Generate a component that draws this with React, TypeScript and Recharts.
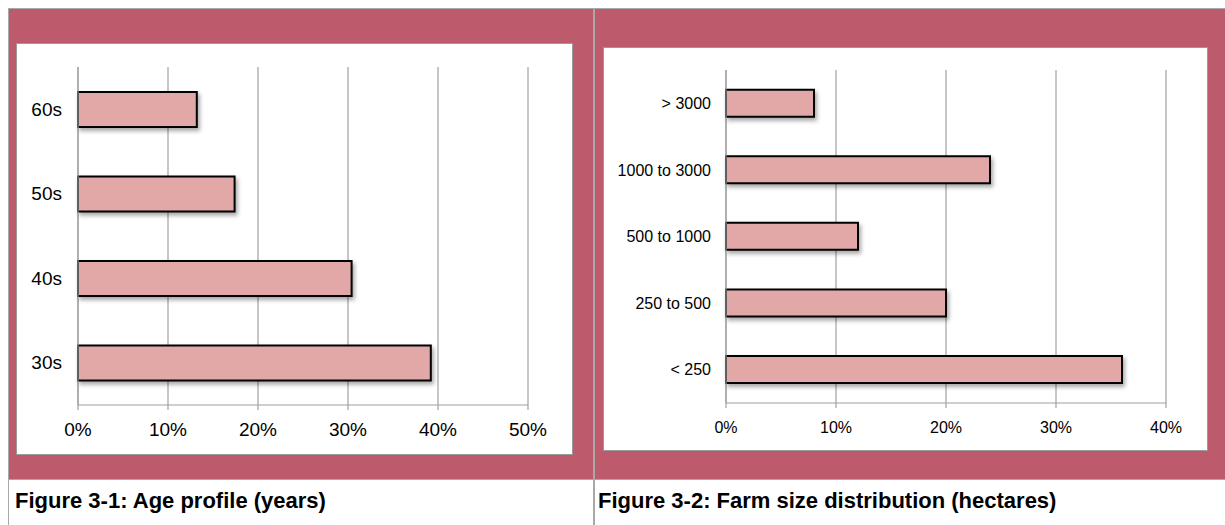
import { BarChart, Bar, XAxis, YAxis, CartesianGrid } from "recharts"

// Figure 3-1: age profile (share of respondents)
const ageGroups = ["60s", "50s", "40s", "30s"]
const ageShare = [13.2, 17.4, 30.4, 39.2]
const ageTicks = [0, 10, 20, 30, 40, 50]

// Figure 3-2: farm size distribution (share of farms)
const sizeGroups = ["> 3000", "1000 to 3000", "500 to 1000", "250 to 500", "< 250"]
const sizeShare = [8, 24, 12, 20, 36]
const sizeTicks = [0, 10, 20, 30, 40]

const MAROON = "#BD5B6C"
const BAR_FILL = "#E2A8A8"
const GRID = "#A0A0A0"
const BORDER = "#A8A8A8"
const FONT = "'Liberation Sans', Arial, Helvetica, sans-serif"

const ageData = ageGroups.map((name, i) => ({ name, value: ageShare[i] }))
const sizeData = sizeGroups.map((name, i) => ({ name, value: sizeShare[i] }))

const pct = (v: number) => `${v}%`

type PanelProps = {
  data: { name: string; value: number }[]
  ticks: number[]
  width: number
  height: number
  margin: { top: number; right: number; bottom: number; left: number }
  yWidth: number
  xHeight: number
  fontSize: number
  labelGap: number
  xTickMargin: number
  id: string
}

function HBarPanel(p: PanelProps) {
  const n = p.data.length
  const edges = Array.from({ length: n + 1 }, (_, i) => i)
  const max = p.ticks[p.ticks.length - 1]
  return (
    <BarChart
      width={p.width}
      height={p.height}
      data={p.data}
      layout="vertical"
      margin={p.margin}
      barCategoryGap="29.5%"
    >
      <defs>
        <filter id={`shadow-${p.id}`} x="-10%" y="-30%" width="130%" height="180%">
          <feDropShadow dx="2" dy="3" stdDeviation="2" floodColor="#000" floodOpacity="0.35" />
        </filter>
      </defs>
      <CartesianGrid horizontal={false} stroke={GRID} strokeWidth={1.2} />
      <XAxis
        type="number"
        domain={[0, max]}
        ticks={p.ticks}
        tickFormatter={pct}
        height={p.xHeight}
        stroke={GRID}
        tickSize={5}
        tickMargin={p.xTickMargin}
        tick={{ fill: "#000", fontSize: p.fontSize, fontFamily: FONT }}
        axisLine={{ stroke: GRID, strokeWidth: 1.2 }}
        tickLine={{ stroke: GRID, strokeWidth: 1.2 }}
      />
      {/* short marks between the categories */}
      <YAxis
        yAxisId="edge"
        type="number"
        domain={[0, n]}
        ticks={edges}
        allowDataOverflow
        width={0}
        tick={false}
        tickSize={5}
        axisLine={false}
        tickLine={{ stroke: GRID, strokeWidth: 1.2 }}
      />
      <YAxis
        yAxisId="cat"
        type="category"
        dataKey="name"
        width={p.yWidth}
        tickSize={0}
        tickMargin={p.labelGap}
        tickLine={false}
        axisLine={{ stroke: GRID, strokeWidth: 1.2 }}
        tick={{ fill: "#000", fontSize: p.fontSize, fontFamily: FONT }}
      />
      <Bar
        yAxisId="cat"
        dataKey="value"
        fill={BAR_FILL}
        stroke="#000"
        strokeWidth={2}
        filter={`url(#shadow-${p.id})`}
        isAnimationActive={false}
      />
    </BarChart>
  )
}

const box = (left: number, top: number, width: number, height: number, bg: string, border?: string) => ({
  position: "absolute" as const,
  left,
  top,
  width,
  height,
  background: bg,
  boxSizing: "border-box" as const,
  border: border ? `1px solid ${border}` : undefined,
})

const captionStyle = (left: number) => ({
  position: "absolute" as const,
  left,
  top: 488,
  fontFamily: FONT,
  fontWeight: 700,
  fontSize: 22,
  color: "#000",
  whiteSpace: "nowrap" as const,
})

export default function App() {
  return (
    <div style={{ position: "absolute", left: 0, top: 0, width: 1225, height: 525, background: "#fff", overflow: "hidden" }}>
      {/* table rules */}
      <div style={box(8, 8, 1217, 1, BORDER)} />
      <div style={box(8, 8, 1, 517, BORDER)} />
      <div style={box(593, 8, 2, 517, BORDER)} />
      <div style={box(8, 479, 1217, 1, BORDER)} />

      {/* coloured cell backgrounds */}
      <div style={box(9, 9, 584, 470, MAROON)} />
      <div style={box(595, 9, 630, 470, MAROON)} />

      {/* left chart */}
      <div style={box(16, 43, 557, 412, "#fff", "#9A9A9A")} />
      <div style={{ position: "absolute", left: 16, top: 43 }}>
        <HBarPanel
          id="age"
          data={ageData}
          ticks={ageTicks}
          width={557}
          height={411}
          margin={{ top: 24, right: 45, bottom: 0, left: 0 }}
          yWidth={62}
          xHeight={49}
          fontSize={19}
          labelGap={16}
          xTickMargin={13}
        />
      </div>

      {/* right chart */}
      <div style={box(603, 47, 605, 404, "#fff", "#9A9A9A")} />
      <div style={{ position: "absolute", left: 603, top: 47 }}>
        <HBarPanel
          id="size"
          data={sizeData}
          ticks={sizeTicks}
          width={604}
          height={403}
          margin={{ top: 23, right: 41, bottom: 0, left: 0 }}
          yWidth={123}
          xHeight={47}
          fontSize={16}
          labelGap={15}
          xTickMargin={14}
        />
      </div>

      <div style={captionStyle(15)}>Figure 3-1: Age profile (years)</div>
      <div style={captionStyle(598)}>Figure 3-2: Farm size distribution (hectares)</div>
    </div>
  )
}
